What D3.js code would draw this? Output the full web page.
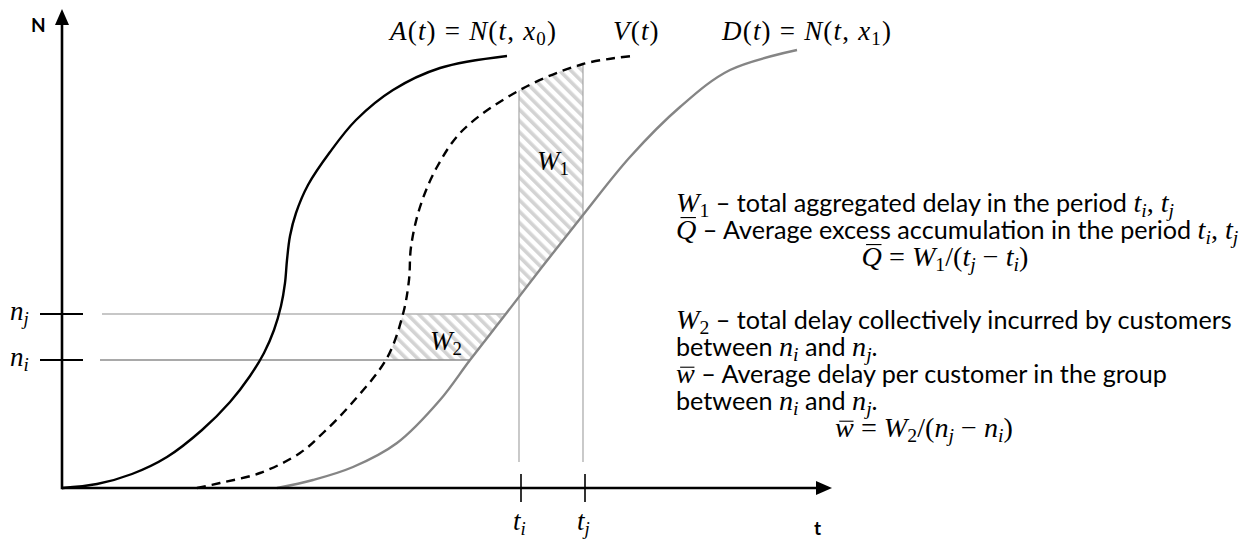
<!DOCTYPE html>
<html>
<head>
<meta charset="utf-8">
<script src="https://cdn.jsdelivr.net/npm/d3@7"></script>
<style>
  html, body { margin: 0; padding: 0; background: #fff; }
  svg { display: block; }
  text { white-space: pre; }
</style>
</head>
<body>
<svg id="chart" width="1246" height="544"></svg>
<script>
// Cumulative count N against time t: arrivals A(t), virtual arrivals V(t), departures D(t)
const arrivalT   = [0, 3.5, 7.0, 10.5, 14.0, 16.8, 18.8, 20.2, 21.2, 21.9, 22.3, 22.5, 22.8, 23.4, 24.6, 26.8, 29.4, 33.1, 37.8, 44.5];
const arrivalN   = [0, 0.4, 1.4, 3.1, 5.8, 8.6, 11.2, 13.5, 15.8, 18.2, 20.5, 22.8, 25.2, 27.5, 30.3, 33.6, 36.8, 39.8, 42.0, 43.2];
const virtualT   = [13.5, 15.8, 19.8, 23.8, 26.1, 29.0, 32.5, 34.1, 34.7, 34.9, 35.8, 37.5, 40.1, 45.8, 52.1, 57.0];
const virtualN   = [0, 0.5, 1.5, 3.5, 5.5, 8.5, 13.0, 17.4, 20.8, 24.1, 28.1, 32.1, 35.8, 39.8, 42.4, 43.2];
const departureT = [21.5, 25.1, 29.1, 33.5, 37.8, 40.8, 44.3, 48.0, 52.1, 56.8, 61.8, 66.8, 73.5];
const departureN = [0, 0.8, 2.1, 4.5, 8.8, 12.8, 17.3, 22.1, 27.3, 33.1, 38.1, 41.8, 43.8];

// Marked instants t_i, t_j and customer counts n_i, n_j
const timeMarks  = [45.8, 52.2];
const timeLabels = [["t", "i"], ["t", "j"]];
const countMarks  = [12.8, 17.4];
const countLabels = [["n", "i"], ["n", "j"]];

const tMax = 77.0, nMax = 47.9;

const svg = d3.select("#chart");
const x = d3.scaleLinear().domain([0, tMax]).range([62, 832]);
const y = d3.scaleLinear().domain([0, nMax]).range([488, 9]);

const pts = (ts, ns) => ts.map((t, i) => [t, ns[i]]);
const A = pts(arrivalT, arrivalN);
const V = pts(virtualT, virtualN);
const D = pts(departureT, departureN);

const line = d3.line().x(d => x(d[0])).y(d => y(d[1])).curve(d3.curveCatmullRom.alpha(0.5));

const FONT_MATH = "'Liberation Serif', 'Times New Roman', serif";
const FONT_BODY = "Lato, 'Open Sans', sans-serif";

const defs = svg.append("defs");

// diagonal hatch used for the delay areas
const pat = defs.append("pattern")
  .attr("id", "hatch").attr("patternUnits", "userSpaceOnUse")
  .attr("width", 8).attr("height", 10)
  .attr("patternTransform", "rotate(-45)");
pat.append("rect").attr("width", 8).attr("height", 10).attr("fill", "#fff");
pat.append("rect").attr("width", 3.6).attr("height", 10).attr("fill", "#d3d3d3");

// region under the virtual-arrival curve
const vEnd = V[V.length - 1], vStart = V[0];
defs.append("clipPath").attr("id", "belowV").append("path")
  .attr("d", line(V) + `L${x(tMax)},${y(vEnd[1])}L${x(tMax)},${y(0)}L${x(vStart[0])},${y(0)}Z`);

// region above the departure curve
const dEnd = D[D.length - 1];
defs.append("clipPath").attr("id", "aboveD").append("path")
  .attr("d", line(D) + `L${x(dEnd[0])},${y(nMax)}L${x(0) - 80},${y(nMax)}L${x(0) - 80},${y(0)}Z`);

// hatched areas W1 (between t_i and t_j) and W2 (between n_i and n_j)
const hatch = svg.append("g").attr("clip-path", "url(#belowV)")
  .append("g").attr("clip-path", "url(#aboveD)");
hatch.append("rect")
  .attr("x", x(timeMarks[0]) - 1).attr("width", x(timeMarks[1]) - x(timeMarks[0]))
  .attr("y", y(nMax)).attr("height", y(0) - y(nMax))
  .attr("fill", "url(#hatch)");
hatch.append("rect")
  .attr("x", x(0)).attr("width", x(tMax) - x(0))
  .attr("y", y(countMarks[1])).attr("height", y(countMarks[0]) - y(countMarks[1]))
  .attr("fill", "url(#hatch)");

// vertical guides at t_i, t_j up to V(t)
svg.append("g").attr("clip-path", "url(#belowV)")
  .selectAll("line").data(timeMarks).join("line")
  .attr("x1", d => x(d) - 1).attr("x2", d => x(d) - 1)
  .attr("y1", y(2.6)).attr("y2", y(nMax))
  .attr("stroke", "#a6a6a6").attr("stroke-width", 1.2);

// horizontal guides at n_i, n_j out to D(t)
svg.append("g").attr("clip-path", "url(#aboveD)")
  .selectAll("line").data(countMarks).join("line")
  .attr("x1", (d, i) => x(i ? 4.0 : 3.8)).attr("x2", x(tMax))
  .attr("y1", d => y(d)).attr("y2", d => y(d))
  .attr("stroke", (d, i) => i ? "#b4b4b4" : "#8c8c8c").attr("stroke-width", 1.3);

// curves
svg.append("path").attr("d", line(D)).attr("fill", "none")
  .attr("stroke", "#858585").attr("stroke-width", 2.4);
svg.append("path").attr("d", line(V)).attr("fill", "none")
  .attr("stroke", "#000").attr("stroke-width", 2.4).attr("stroke-dasharray", "9,6");
svg.append("path").attr("d", line(A)).attr("fill", "none")
  .attr("stroke", "#000").attr("stroke-width", 2.4);

// axes with arrowheads
const ax = svg.append("g");
const head = 16, half = 7;
ax.append("line").attr("x1", x(0)).attr("y1", y(0)).attr("x2", x(tMax) - head + 1).attr("y2", y(0))
  .attr("stroke", "#000").attr("stroke-width", 2.6);
ax.append("line").attr("x1", x(0)).attr("y1", y(0) + 1.3).attr("x2", x(0)).attr("y2", y(nMax) + head - 1)
  .attr("stroke", "#000").attr("stroke-width", 2.6);
ax.append("path").attr("fill", "#000")
  .attr("d", `M${x(tMax)},${y(0)}L${x(tMax) - head},${y(0) - half}L${x(tMax) - head},${y(0) + half}Z`);
ax.append("path").attr("fill", "#000")
  .attr("d", `M${x(0)},${y(nMax)}L${x(0) - half},${y(nMax) + head}L${x(0) + half},${y(nMax) + head}Z`);

// tick marks
ax.selectAll(".tt").data(timeMarks).join("line")
  .attr("x1", d => x(d) + 1).attr("x2", d => x(d) + 1)
  .attr("y1", y(0) - 14).attr("y2", y(0) + 14)
  .attr("stroke", "#000").attr("stroke-width", 1.6);
ax.selectAll(".nt").data(countMarks).join("line")
  .attr("x1", x(0) - 22).attr("x2", x(0) + 21)
  .attr("y1", d => y(d)).attr("y2", d => y(d))
  .attr("stroke", "#000").attr("stroke-width", 2);

// mixed math / prose text: segments of [string, kind]
// kinds: mi = math italic, mb = math italic with bar, mu = math upright, b = prose,
// trailing "_" = subscript
function rich(parent, segs, px, py, size, mathSize, anchor, spacing) {
  const g = parent.append("g");
  const t = g.append("text").attr("x", px).attr("y", py);
  if (spacing) t.attr("letter-spacing", spacing);
  let shifted = 0, charIdx = 0;
  const bars = [];
  segs.forEach(([str, kind]) => {
    const sub = kind.endsWith("_");
    const k = sub ? kind.slice(0, -1) : kind;
    const ts = t.append("tspan").text(str);
    const fs = k === "b" ? size : mathSize;
    ts.attr("font-family", k === "b" ? FONT_BODY : FONT_MATH)
      .attr("font-style", (k === "mi" || k === "mb") ? "italic" : "normal")
      .attr("font-size", sub ? fs * 0.7 : fs);
    const want = sub ? mathSize * 0.17 : 0;
    if (want !== shifted) { ts.attr("dy", want - shifted); shifted = want; }
    if (k === "mb") bars.push({ idx: charIdx, fs, lower: str === str.toLowerCase() });
    charIdx += str.length;
  });
  if (anchor === "middle") {
    const w = t.node().getComputedTextLength();
    t.attr("x", px - w / 2);
  }
  // overbars
  bars.forEach(b => {
    const e = t.node().getExtentOfChar(b.idx);
    const by = py - b.fs * (b.lower ? 0.56 : 0.76);
    g.append("line")
      .attr("x1", e.x + e.width * 0.22).attr("x2", e.x + e.width * 0.98)
      .attr("y1", by).attr("y2", by)
      .attr("stroke", "#000").attr("stroke-width", 1.1);
  });
  return t;
}

// curve names
const curveNames = svg.append("g");
const labelMath = 27;
rich(curveNames, [["A","mi"],["(","mu"],["t","mi"],[")","mu"],[" = ","mu"],["N","mi"],["(","mu"],["t","mi"],[", ","mu"],["x","mi"],["0","mu_"],[")","mu"]], 390, 40, 22, labelMath, null, 1.2);
rich(curveNames, [["V","mi"],["(","mu"],["t","mi"],[")","mu"]], 613, 40, 22, labelMath, null, 1.2);
rich(curveNames, [["D","mi"],["(","mu"],["t","mi"],[")","mu"],[" = ","mu"],["N","mi"],["(","mu"],["t","mi"],[", ","mu"],["x","mi"],["1","mu_"],[")","mu"]], 722, 40, 22, labelMath, null, 1.2);

// axis names
svg.append("text").attr("x", 31).attr("y", 32).text("N")
  .attr("font-family", FONT_BODY).attr("font-weight", "bold").attr("font-size", 19);
svg.append("text").attr("x", 814).attr("y", 535).text("t")
  .attr("font-family", FONT_BODY).attr("font-weight", "bold").attr("font-size", 19);

// tick labels
timeMarks.forEach((d, i) => {
  rich(svg, [[timeLabels[i][0], "mi"], [timeLabels[i][1], "mi_"]], x(d) - 7, 530, 22, labelMath);
});
countMarks.forEach((d, i) => {
  rich(svg, [[countLabels[i][0], "mi"], [countLabels[i][1], "mi_"]], 10, y(d) + 6, 22, labelMath);
});

// area names
rich(svg, [["W","mi"],["1","mu_"]], x((timeMarks[0] + timeMarks[1]) / 2) - 15, 170, 22, labelMath);
rich(svg, [["W","mi"],["2","mu_"]], 430, 350, 22, labelMath);

// explanatory notes
const notes = [
  { segs: [["W","mi"],["1","mu_"],[" – total aggregated delay in the period ","b"],["t","mi"],["i","mi_"],[", ","mu"],["t","mi"],["j","mi_"]], y: 212 },
  { segs: [["Q","mb"],[" – Average excess accumulation in the period ","b"],["t","mi"],["i","mi_"],[", ","mu"],["t","mi"],["j","mi_"]], y: 239 },
  { segs: [["Q","mb"],["\u2005=\u2005","mu"],["W","mi"],["1","mu_"],["/(","mu"],["t","mi"],["j","mi_"],["\u2005−\u2005","mu"],["t","mi"],["i","mi_"],[")","mu"]], y: 266, center: 945 },
  { segs: [["W","mi"],["2","mu_"],[" – total delay collectively incurred by customers","b"]], y: 329 },
  { segs: [["between ","b"],["n","mi"],["i","mi_"],[" and ","b"],["n","mi"],["j","mi_"],[".","b"]], y: 356 },
  { segs: [["w","mb"],[" – Average delay per customer in the group","b"]], y: 383 },
  { segs: [["between ","b"],["n","mi"],["i","mi_"],[" and ","b"],["n","mi"],["j","mi_"],[".","b"]], y: 410 },
  { segs: [["w","mb"],["\u2005=\u2005","mu"],["W","mi"],["2","mu_"],["/(","mu"],["n","mi"],["j","mi_"],["\u2005−\u2005","mu"],["n","mi"],["i","mi_"],[")","mu"]], y: 437, center: 924 }
];
const noteG = svg.append("g");
const NOTE_MATH_RATIO = 1.12;
function drawNotes(size) {
  noteG.selectAll("*").remove();
  return notes.map(n => n.center
    ? rich(noteG, n.segs, n.center, n.y, size, size * NOTE_MATH_RATIO, "middle")
    : rich(noteG, n.segs, 676, n.y, size, size * NOTE_MATH_RATIO));
}
// fit the longest note line into the space right of the plot
const firstPass = drawNotes(20);
const longest = firstPass[3].node().getComputedTextLength();
drawNotes(20 * (1232 - 676) / longest);
</script>
</body>
</html>
